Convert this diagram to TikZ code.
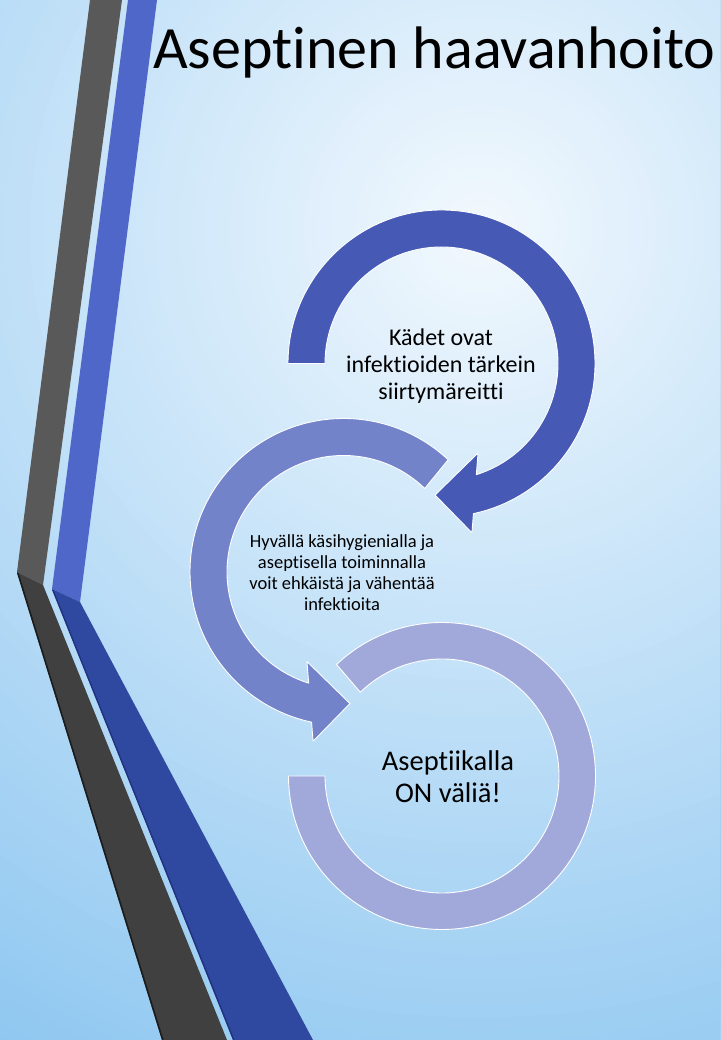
\documentclass[tikz,border=0pt]{standalone}
\usepackage{fontspec}
\setmainfont{Carlito}[Ligatures=NoCommon]
\usetikzlibrary{calc}
\definecolor{bgIn}{HTML}{F3F9FE}
\definecolor{bgOut}{HTML}{8AC5F0}
\definecolor{grayUp}{HTML}{595959}
\definecolor{grayLow}{HTML}{404040}
\definecolor{grayEdge}{HTML}{1C1C1C}
\definecolor{blueUp}{HTML}{4F67C9}
\definecolor{blueLow}{HTML}{2F48A0}
\definecolor{blueEdge}{HTML}{203280}
\definecolor{arcA}{HTML}{4659B5}
\definecolor{arcB}{HTML}{7383C9}
\definecolor{arcC}{HTML}{A1A9DA}
\tikzset{
  arcshape/.style={draw=white, line width=0.9pt, line join=round},
  labeltext/.style={align=center, text=black, inner sep=0pt}
}
\begin{document}
\begin{tikzpicture}[x=1pt,y=1pt]
\useasboundingbox (0,0) rectangle (720,1040);
\begin{scope}
\clip (0,0) rectangle (720,1040);
\foreach \i in {80,...,1} {
  \pgfmathsetmacro{\pmix}{min(100,100*(\i/80)^0.97)}
  \fill[bgOut!\pmix!bgIn] (480,810) circle[radius=\i*12.5];
}
% stripes
\fill[grayUp] (90,1040) -- (122,1040) -- (43,455) -- (17,468) -- cycle;
\fill[grayLow] (17,468) -- (43,455) -- (227,0) -- (162,0) -- cycle;
\draw[grayEdge, line width=1.6pt] (17.8,467) -- (162.8,0);
\fill[blueUp] (128,1040) -- (157,1040) -- (80,438) -- (52,451) -- cycle;
\fill[blueLow] (52,451) -- (80,438) -- (313,0) -- (233,0) -- cycle;
\draw[blueEdge, line width=1.4pt] (52.8,450) -- (233.8,0);
\end{scope}
% arcs
\coordinate (cA) at (441.5,676.5);
\coordinate (cB) at (343.5,468);
\coordinate (cC) at (442,264);
\fill[arcC, arcshape] ($(cC)+(133.4:153.5)$) arc[start angle=133.4, end angle=-180, radius=153.5]
  -- ($(cC)+(180:117)$) arc[start angle=-180, end angle=134.3, radius=117] -- cycle;
\fill[arcB, arcshape] ($(cB)+(47:153.5)$) arc[start angle=47, end angle=258, radius=153.5]
  -- ($(cB)+(259.8:172)$) -- ($(cB)+(272.8:131.7)$) -- ($(cB)+(247.8:96.7)$)
  -- ($(cB)+(252.6:116.5)$) arc[start angle=252.6, end angle=45.8, radius=116.5] -- cycle;
\fill[arcA, arcshape] ($(cA)+(180:153.5)$) arc[start angle=180, end angle=-78, radius=153.5]
  -- ($(cA)+(-79.8:172)$) -- ($(cA)+(-92.8:131.7)$) -- ($(cA)+(-67.8:96.7)$)
  -- ($(cA)+(-72.6:116.5)$) arc[start angle=-72.6, end angle=180, radius=116.5] -- cycle;
% texts
\node[labeltext, anchor=base west, font={\fontsize{60}{64}\selectfont}] (title) at (153,971) {Aseptinen haavanhoito};
\node[labeltext, font={\fontsize{24}{27}\selectfont}] (tA) at (441,674) {Kädet ovat\\infektioiden tärkein\\siirtymäreitti};
\node[labeltext, font={\fontsize{18.5}{21}\selectfont}] (tB) at (342,467) {Hyvällä käsihygienialla ja\\aseptisella toiminnalla\\voit ehkäistä ja vähentää\\infektioita};
\node[labeltext, font={\fontsize{28.5}{32}\selectfont}] (tC) at (448,263) {Aseptiikalla\\ON väliä!};
\end{tikzpicture}
\end{document}
